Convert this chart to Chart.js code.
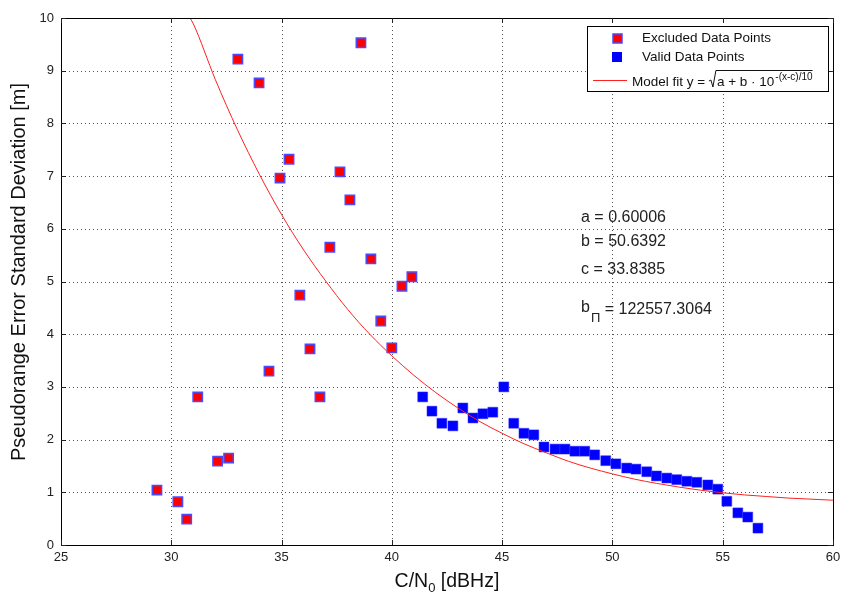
<!DOCTYPE html>
<html>
<head>
<meta charset="utf-8">
<script src="https://cdn.jsdelivr.net/npm/chart.js@4/dist/chart.umd.min.js"></script>
<style>
html,body{margin:0;padding:0;background:#fff}
#wrap{width:841px;height:596px}
</style>
</head>
<body>
<div id="wrap"><canvas id="c" width="841" height="596"></canvas></div>
<script>
// points
const excludedX=[29.35,30.3,30.7,31.2,32.1,32.6,33.02,33.98,34.43,34.93,35.34,35.83,36.29,36.74,37.19,37.65,38.1,38.6,39.05,39.5,40.0,40.46,40.91]
const excludedY=[1.04,0.82,0.49,2.81,1.59,1.65,9.22,8.77,3.30,6.96,7.32,4.74,3.72,2.81,5.65,7.08,6.55,9.53,5.43,4.25,3.74,4.91,5.09]

const validX=[41.4,41.82,42.27,42.77,43.22,43.68,44.13,44.58,45.08,45.53,45.99,46.44,46.9,47.4,47.85,48.3,48.75,49.2,49.7,50.16,50.65,51.07,51.56,52.0,52.47,52.92,53.38,53.83,54.33,54.78,55.19,55.69,56.14,56.6]
const validY=[2.81,2.54,2.31,2.26,2.60,2.41,2.49,2.52,3.0,2.31,2.12,2.09,1.86,1.82,1.82,1.78,1.78,1.71,1.60,1.54,1.46,1.44,1.39,1.31,1.27,1.24,1.21,1.19,1.14,1.06,0.83,0.61,0.53,0.32]

// model fit curve
const fitX=[30.85,31,32,33,34,35,36,37,38,39,40,41,42,43,44,45,46,47,48,49,50,51,52,53,54,55,56,57,58,59,60]
const fitY=[10,9.89,8.83,7.88,7.03,6.27,5.60,5.01,4.47,4.00,3.59,3.22,2.89,2.60,2.34,2.12,1.92,1.75,1.59,1.46,1.35,1.25,1.17,1.10,1.04,0.99,0.95,0.92,0.89,0.87,0.85]

const xTicks=[25,30,35,40,45,50,55,60]
const yTicks=[0,1,2,3,4,5,6,7,8,9,10]

const params=["a = 0.60006","b = 50.6392","c = 33.8385"]
const bPi="122557.3064"

const FONT="'Liberation Sans', Arial, sans-serif"

const toPts=(xs,ys)=>xs.map((x,i)=>({x:x,y:ys[i]}))

const extras={
id:"extras",
beforeDatasetsDraw(chart){
const {ctx,chartArea:a,scales:{x,y}}=chart
ctx.save()
ctx.strokeStyle="#555"
ctx.lineWidth=1
ctx.setLineDash([1,3])
xTicks.slice(1,-1).forEach(v=>{
const px=Math.round(x.getPixelForValue(v))+0.5
ctx.beginPath();ctx.moveTo(px,a.top);ctx.lineTo(px,a.bottom);ctx.stroke()
})
yTicks.slice(1,-1).forEach(v=>{
const py=Math.round(y.getPixelForValue(v))+0.5
ctx.beginPath();ctx.moveTo(a.left,py);ctx.lineTo(a.right,py);ctx.stroke()
})
ctx.restore()
},
afterDraw(chart){
const {ctx,chartArea:a,scales:{x,y}}=chart
ctx.save()
// frame
ctx.strokeStyle="#000"
ctx.lineWidth=1
ctx.strokeRect(Math.round(a.left)+0.5,Math.round(a.top)+0.5,Math.round(a.right-a.left),Math.round(a.bottom-a.top))
// inner tick marks
ctx.strokeStyle="#222"
xTicks.forEach(v=>{
const px=Math.round(x.getPixelForValue(v))+0.5
ctx.beginPath();ctx.moveTo(px,a.bottom);ctx.lineTo(px,a.bottom-5);ctx.stroke()
ctx.beginPath();ctx.moveTo(px,a.top);ctx.lineTo(px,a.top+5);ctx.stroke()
})
yTicks.forEach(v=>{
const py=Math.round(y.getPixelForValue(v))+0.5
ctx.beginPath();ctx.moveTo(a.left,py);ctx.lineTo(a.left+5,py);ctx.stroke()
ctx.beginPath();ctx.moveTo(a.right,py);ctx.lineTo(a.right-5,py);ctx.stroke()
})

// legend box
ctx.fillStyle="#fff"
ctx.fillRect(587,26,241,65)
ctx.strokeStyle="#000"
ctx.strokeRect(587.5,26.5,241,65)
ctx.fillStyle="#ff0000"
ctx.fillRect(613,34,9,9)
ctx.strokeStyle="#4a4aff"
ctx.lineWidth=1.5
ctx.strokeRect(613,34,9,9)
ctx.fillStyle="#0000ff"
ctx.fillRect(612,52,10,10)
ctx.strokeStyle="#ff2020"
ctx.lineWidth=1
ctx.beginPath();ctx.moveTo(593,80.5);ctx.lineTo(627,80.5);ctx.stroke()
ctx.fillStyle="#111"
ctx.font="13.5px "+FONT
ctx.textBaseline="middle"
ctx.textAlign="left"
ctx.fillText("Excluded Data Points",642,38)
ctx.fillText("Valid Data Points",642,57)
ctx.textBaseline="alphabetic"
let tx=632
const base=86
ctx.fillText("Model fit y = ",tx,base)
tx+=ctx.measureText("Model fit y = ").width
// radical sign
ctx.strokeStyle="#111"
ctx.lineWidth=1
ctx.beginPath()
ctx.moveTo(tx,base-5)
ctx.lineTo(tx+2,base-6)
ctx.lineTo(tx+4,base+1)
ctx.lineTo(tx+7,base-15.5)
ctx.stroke()
const radStart=tx+7
tx+=8
ctx.fillText("a + b \u00b7 10",tx,base)
tx+=ctx.measureText("a + b \u00b7 10").width
ctx.font="10px "+FONT
ctx.fillText("-(x-c)/10",tx+1,base-6)
tx+=ctx.measureText("-(x-c)/10").width+1
ctx.beginPath();ctx.moveTo(radStart,base-15.5);ctx.lineTo(tx,base-15.5);ctx.stroke()

// fitted parameters
ctx.font="16px "+FONT
ctx.fillStyle="#222"
ctx.textBaseline="middle"
ctx.fillText(params[0],581,218)
ctx.fillText(params[1],581,242)
ctx.fillText(params[2],581,270)
ctx.fillText("b",581,308)
let bw=ctx.measureText("b").width
ctx.font="13px "+FONT
ctx.fillText("\u03a0",581+bw+1,318)
let pw=ctx.measureText("\u03a0").width
ctx.font="16px "+FONT
ctx.fillText(" = "+bPi,581+bw+pw+1,310)

// axis titles
ctx.fillStyle="#111"
ctx.textAlign="left"
ctx.textBaseline="alphabetic"
const t1="C/N",t2=" [dBHz]"
ctx.font="19.5px "+FONT
const w1=ctx.measureText(t1).width,w3=ctx.measureText(t2).width
ctx.font="13px "+FONT
const w2=ctx.measureText("0").width
const total=w1+w2+w3
let sx=(a.left+a.right)/2-total/2
ctx.font="19.5px "+FONT
ctx.fillText(t1,sx,587)
ctx.font="13px "+FONT
ctx.fillText("0",sx+w1,592)
ctx.font="19.5px "+FONT
ctx.fillText(t2,sx+w1+w2,587)

ctx.translate(25,272)
ctx.rotate(-Math.PI/2)
ctx.textAlign="center"
ctx.font="20px "+FONT
ctx.fillText("Pseudorange Error Standard Deviation [m]",0,0)
ctx.restore()
}
}

const chart=new Chart(document.getElementById("c"),{
type:"scatter",
data:{
datasets:[
{
label:"Model fit",
data:toPts(fitX,fitY),
showLine:true,
borderColor:"#ff2020",
borderWidth:1,
pointRadius:0,
cubicInterpolationMode:"monotone",
order:0
},
{
label:"Excluded Data Points",
data:toPts(excludedX,excludedY),
pointStyle:"rect",
pointRadius:6.6,
backgroundColor:"#ff0000",
borderColor:"#4a4aff",
borderWidth:1.5,
order:1
},
{
label:"Valid Data Points",
data:toPts(validX,validY),
pointStyle:"rect",
pointRadius:7,
backgroundColor:"#0000ff",
borderColor:"#2a2aff",
borderWidth:0.5,
order:2
}
]
},
options:{
responsive:false,
animation:false,
events:[],
layout:{padding:{top:18,right:8,left:0,bottom:0}},
plugins:{legend:{display:false},tooltip:{enabled:false}},
scales:{
x:{
type:"linear",
min:25,max:60,
afterFit(s){s.height=51;s.paddingRight=0;s.paddingLeft=0},
afterBuildTicks(s){s.ticks=xTicks.map(v=>({value:v}))},
grid:{display:false,drawTicks:false},
border:{display:false},
ticks:{color:"#222",font:{family:FONT,size:13},padding:5,maxRotation:0}
},
y:{
type:"linear",
min:0,max:10,
afterFit(s){s.width=61;s.paddingTop=0;s.paddingBottom=0},
afterBuildTicks(s){s.ticks=yTicks.map(v=>({value:v}))},
grid:{display:false,drawTicks:false},
border:{display:false},
ticks:{color:"#222",font:{family:FONT,size:13},padding:7}
}
}
},
plugins:[extras]
})
</script>
</body>
</html>
